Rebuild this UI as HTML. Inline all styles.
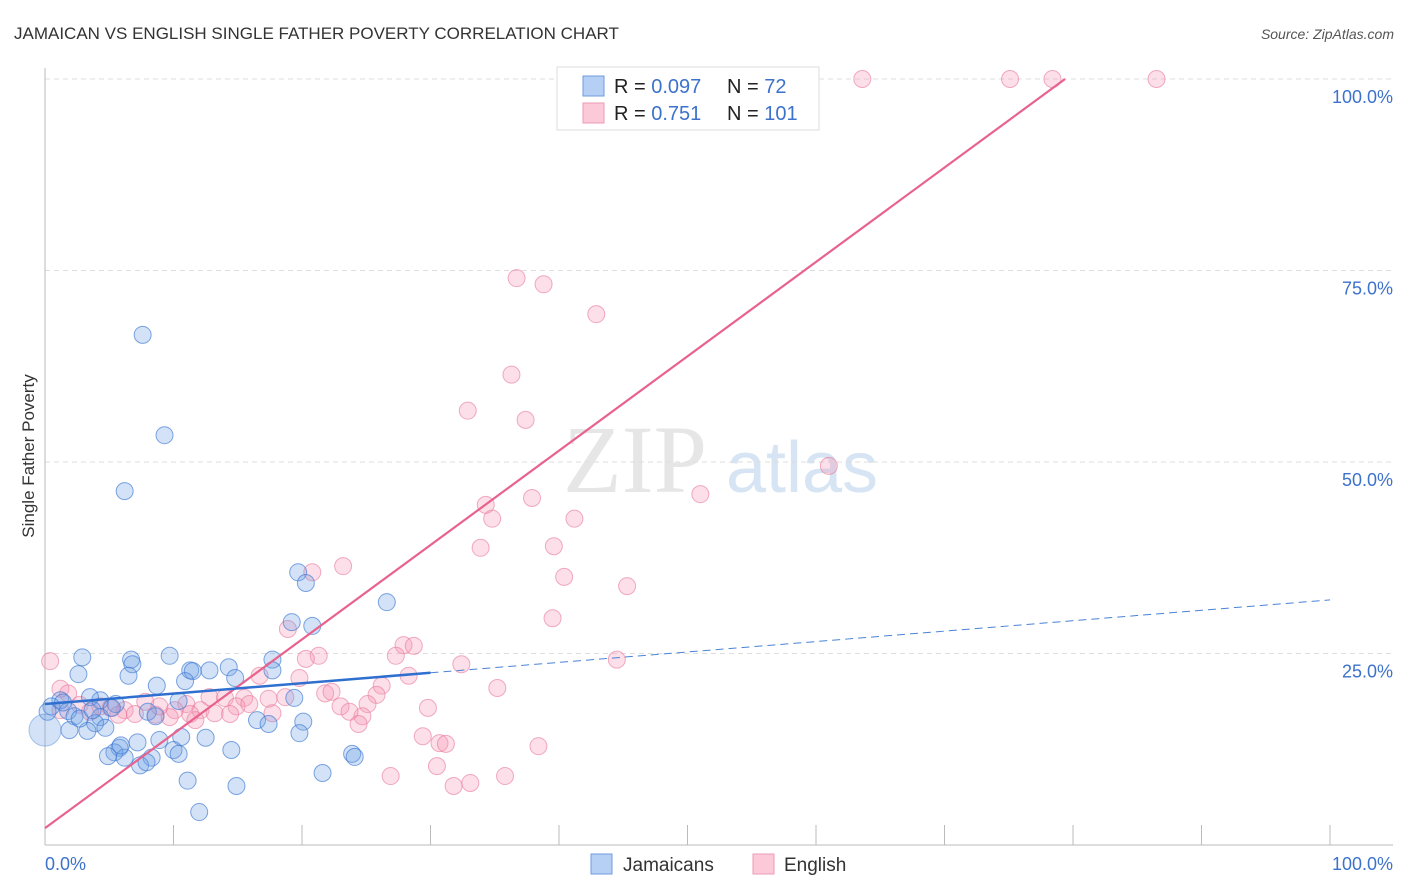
<!DOCTYPE html>
<html><head><meta charset="utf-8"><style>
body{margin:0;background:#fff;font-family:"Liberation Sans",sans-serif;}
svg{display:block}
</style></head><body>
<svg id="chart" width="1406" height="892">
<text x="14" y="39" font-size="17" fill="#333">JAMAICAN VS ENGLISH SINGLE FATHER POVERTY CORRELATION CHART</text>
<text x="1394" y="39" font-size="14" fill="#555" font-style="italic" text-anchor="end">Source: ZipAtlas.com</text>
<text x="34" y="456" font-size="17" fill="#333" text-anchor="middle" transform="rotate(-90 34 456)">Single Father Poverty</text>
<g><text x="635" y="492" font-size="96" font-family="Liberation Serif,serif" fill="#e6e6e6" text-anchor="middle">ZIP</text><text x="802" y="492" font-size="72" fill="#d6e4f4" text-anchor="middle">atlas</text></g>
<g id="grid"></g><g id="axes"></g><g id="pts"></g><g id="lines"></g>
<g>
<rect x="557" y="67" width="262" height="63" fill="#fff" stroke="#ddd"/>
<rect x="583" y="76" width="21" height="20" fill="#b5cff5" stroke="#6f9be0"/>
<rect x="583" y="103" width="21" height="20" fill="#fbc9d8" stroke="#ee9ab4"/>
<text x="614" y="93" font-size="20" fill="#222">R = <tspan fill="#3d72cc">0.097</tspan></text>
<text x="727" y="93" font-size="20" fill="#222">N = <tspan fill="#3d72cc"> 72</tspan></text>
<text x="614" y="120" font-size="20" fill="#222">R = <tspan fill="#3d72cc"> 0.751</tspan></text>
<text x="727" y="120" font-size="20" fill="#222">N = <tspan fill="#3d72cc">101</tspan></text>
</g>
<g>
<rect x="591" y="854" width="21" height="20" fill="#b5cff5" stroke="#6f9be0"/>
<text x="623" y="871" font-size="19" fill="#333">Jamaicans</text>
<rect x="753" y="854" width="21" height="20" fill="#fbc9d8" stroke="#ee9ab4"/>
<text x="784" y="871" font-size="19" fill="#333">English</text>
</g>
</svg>
<script>
const yTicks=[25,50,75,100];
const yTickLabels=["25.0%","50.0%","75.0%","100.0%"];
const xTicks=[0,10,20,30,40,50,60,70,80,90,100];
const blueX=[7.6,9.3,6.2,19.7,20.3,26.6,20.8,19.2,2.9,6.7,6.8,9.7,11.3,11.5,12.8,14.3,17.7,17.7,2.6,6.5,8.7,10.9,14.8,19.4,10.4,8.0,4.3,3.5,1.2,0.5,0.2,1.8,2.3,4.3,3.9,4.7,1.9,3.3,5.5,5.2,8.6,16.5,17.4,20.1,19.8,7.2,8.9,10.6,12.5,5.8,5.4,6.2,4.9,10.0,10.4,14.5,8.3,7.4,7.9,23.9,24.1,21.6,11.1,14.9,12.0,1.4,2.7,3.7,5.9];
const blueY=[66.6,53.5,46.2,35.6,34.2,31.7,28.6,29.1,24.5,24.2,23.6,24.7,22.8,22.7,22.8,23.2,24.2,22.8,22.3,22.1,20.8,21.4,21.8,19.2,18.8,17.4,18.9,19.3,18.9,18.1,17.4,17.5,16.8,16.7,15.9,15.3,15.0,14.9,18.4,17.9,16.8,16.3,15.8,16.1,14.6,13.4,13.7,14.1,14.0,12.7,12.1,11.4,11.6,12.4,11.9,12.4,11.4,10.4,10.8,11.9,11.5,9.4,8.4,7.7,4.3,18.6,16.5,17.6,13.0];
const pinkX=[41.0,43.4,45.8,46.7,47.9,48.5,50.2,56.6,63.6,75.1,78.4,86.5,36.7,38.8,42.9,36.3,32.9,37.4,61.0,51.0,37.9,34.3,34.8,41.2,33.9,39.6,40.4,45.3,20.8,23.2,18.9,39.5,27.9,28.7,21.3,20.3,27.3,32.4,44.5,0.4,16.7,19.8,28.3,26.2,35.2,1.2,1.8,21.8,22.3,25.8,12.8,14.0,15.5,17.4,7.8,11.0,14.9,23.0,25.1,2.7,4.3,5.1,6.2,10.1,12.1,29.8,1.2,3.5,7.0,8.6,11.3,13.2,14.4,17.7,24.7,5.7,9.7,11.7,23.7,24.4,29.4,30.7,31.2,38.4,30.5,26.9,31.8,33.1,35.8,8.9,15.9,18.7];
const pinkY=[100,100,100,100,100,100,100,100,100,100,100,100,74.0,73.2,69.3,61.4,56.7,55.5,49.5,45.8,45.3,44.4,42.6,42.6,38.8,39.0,35.0,33.8,35.6,36.4,28.2,29.6,26.1,26.0,24.7,24.3,24.7,23.6,24.2,24.0,22.1,21.8,22.1,20.8,20.5,20.4,19.8,19.8,20.0,19.6,19.3,19.2,19.2,19.1,18.7,18.4,18.1,18.1,18.4,18.3,18.1,17.9,17.6,17.6,17.6,17.9,17.6,17.4,17.1,17.0,17.1,17.2,17.1,17.2,16.8,17.0,16.7,16.3,17.4,15.8,14.2,13.3,13.2,12.9,10.3,9.0,7.7,8.1,9.0,18.1,18.4,19.3];
const pinkLine=[2.2,1.232];   // intercept, slope
const blueLine=[18.4,0.136];  // intercept, slope
const X=v=>45+v*12.85, Y=v=>845-v*7.66;
const NS="http://www.w3.org/2000/svg";
function mk(p,t,a){const e=document.createElementNS(NS,t);for(const k in a)e.setAttribute(k,a[k]);p.appendChild(e);return e;}
const grid=document.getElementById('grid'),axes=document.getElementById('axes'),pts=document.getElementById('pts'),lines=document.getElementById('lines');
yTicks.forEach((t,i)=>{
 const l=mk(grid,'line',{x1:45,x2:1393,y1:Y(t),y2:Y(t),stroke:'#ddd','stroke-dasharray':'5,4'});
 
 
 const tx=mk(grid,'text',{x:1393,y:Y(t)+24,'font-size':18,fill:'#3d72cc','text-anchor':'end'});tx.textContent=yTickLabels[i];
 
 
});
const ax=mk(axes,'line',{x1:45,x2:45,y1:68,y2:845,stroke:'#bbb'});


const bx=mk(axes,'line',{x1:45,x2:1393,y1:845,y2:845,stroke:'#bbb'});


xTicks.forEach(t=>{const l=mk(axes,'line',{x1:X(t),x2:X(t),y1:825,y2:845,stroke:'#bbb'});
 
 });
const xl=mk(axes,'text',{x:45,y:870,'font-size':18,fill:'#3d72cc'});xl.textContent='0.0%';


const xr=mk(axes,'text',{x:1393,y:870,'font-size':18,fill:'#3d72cc','text-anchor':'end'});xr.textContent='100.0%';


pinkX.forEach((x,i)=>{const c=mk(pts,'circle',{cx:X(x),cy:Y(pinkY[i]),r:8.5,fill:'rgba(245,150,180,0.3)',stroke:'rgba(232,120,155,0.6)'});
 
 });
blueX.forEach((x,i)=>{const c=mk(pts,'circle',{cx:X(x),cy:Y(blueY[i]),r:8.5,fill:'rgba(110,160,230,0.3)',stroke:'rgba(60,120,210,0.65)'});
 
 });
const big=mk(pts,'circle',{cx:X(0),cy:Y(15),r:16,fill:'rgba(110,160,230,0.3)',stroke:'rgba(60,120,210,0.4)'});


const pxEnd=(100-pinkLine[0])/pinkLine[1];
const pl=mk(lines,'line',{x1:X(0),y1:Y(pinkLine[0]),x2:X(pxEnd),y2:Y(100),stroke:'#e8628e','stroke-width':2.2});


const bl=mk(lines,'line',{x1:X(0),y1:Y(blueLine[0]),x2:X(30),y2:Y(blueLine[0]+30*blueLine[1]),stroke:'#2f6fd0','stroke-width':2.5});


const bd=mk(lines,'line',{x1:X(30),y1:Y(blueLine[0]+30*blueLine[1]),x2:X(100),y2:Y(blueLine[0]+100*blueLine[1]),stroke:'#4a82d6','stroke-width':1,'stroke-dasharray':'8,5'});


</script>
</body></html>
